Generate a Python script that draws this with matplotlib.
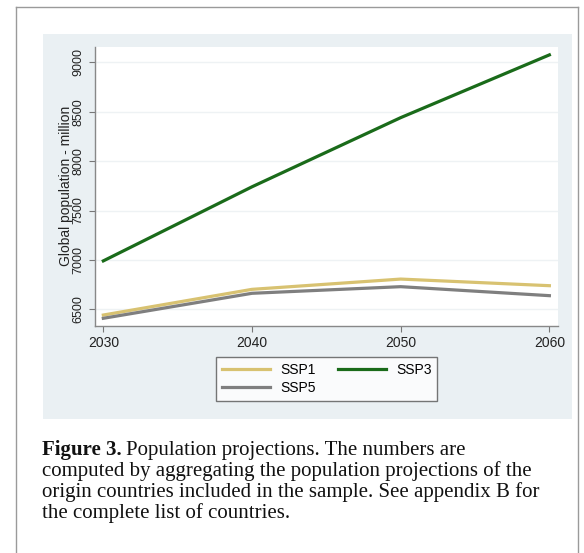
import matplotlib.pyplot as plt
from matplotlib.lines import Line2D
from matplotlib.patches import Rectangle

years = [2030, 2040, 2050, 2060]
ssp1 = [6442, 6702, 6806, 6739]
ssp3 = [6990, 7740, 8440, 9075]
ssp5 = [6409, 6662, 6729, 6638]
yticks = [6500, 7000, 7500, 8000, 8500, 9000]

plt.rcParams["font.family"] = ["Liberation Sans", "DejaVu Sans"]

fig = plt.figure(figsize=(5.84, 5.53), dpi=100)

# outer frame of the figure box (no bottom edge)
W, H = 584, 553
frame = dict(color="#9a9a9a", lw=1.0, transform=fig.transFigure)
fig.add_artist(Line2D([16 / W, 16 / W], [0, 1 - 7 / H], **frame))
fig.add_artist(Line2D([578 / W, 578 / W], [0, 1 - 7 / H], **frame))
fig.add_artist(Line2D([16 / W, 578 / W], [1 - 7 / H, 1 - 7 / H], **frame))

# light graph region behind the plot
fig.add_artist(Rectangle((43 / W, 1 - 419 / H), 529 / W, 385 / H,
                         transform=fig.transFigure, facecolor="#eaf0f3",
                         edgecolor="none", zorder=0))

ax = fig.add_axes([95 / W, 1 - 325.7 / H, 462.7 / W, 279 / H])
ax.set_facecolor("white")
l1, = ax.plot(years, ssp1, color="#d8c271", lw=2.3, label="SSP1")
l3, = ax.plot(years, ssp3, color="#1a6b1a", lw=2.3, label="SSP3")
l5, = ax.plot(years, ssp5, color="#7f7f7f", lw=2.3, label="SSP5")

ax.set_xlim(2029.44, 2060.56)
ax.set_ylim(6334, 9158)
ax.set_xticks(years)
ax.set_yticks(yticks)
ax.set_yticklabels([str(v) for v in yticks], rotation=90, va="center")
ax.tick_params(color="#777777", length=4, width=0.8, labelcolor="#222222")
ax.tick_params(axis="x", labelsize=10)
ax.tick_params(axis="y", labelsize=9, pad=3.5)
ax.grid(axis="y", color="#eef2f4", lw=1.0)
ax.set_axisbelow(True)
for side in ["top", "right"]:
    ax.spines[side].set_visible(False)
for side in ["left", "bottom"]:
    ax.spines[side].set_color("#888888")
    ax.spines[side].set_linewidth(1.0)
ax.set_ylabel("Global population - million", fontsize=10, color="#222222",
              labelpad=0)

leg = fig.legend([l1, l5, l3], ["SSP1", "SSP5", "SSP3"], ncol=2,
                 loc="upper center", bbox_to_anchor=(326.5 / W, 1 - 357 / H),
                 fontsize=10, frameon=True, fancybox=False, handlelength=3.5,
                 columnspacing=1.6, borderpad=0.42, labelspacing=0.3,
                 handletextpad=0.7, borderaxespad=0)
leg.get_frame().set_edgecolor("#555555")
leg.get_frame().set_linewidth(1.0)

# caption
caption_lines = [
    "Population projections. The numbers are",
    "computed by aggregating the population projections of the",
    "origin countries included in the sample. See appendix B for",
    "the complete list of countries.",
]
serif = ["Liberation Serif", "DejaVu Serif"]
t = fig.text(42 / W, 1 - 455 / H, "Figure 3.", family=serif, fontsize=15,
             fontweight="bold", va="baseline", color="#111111")
fig.canvas.draw()
bb = t.get_window_extent()
fig.text((bb.x1 + 4) / W, 1 - 455 / H, caption_lines[0], family=serif,
         fontsize=15, va="baseline", color="#111111")
for i, line in enumerate(caption_lines[1:], start=1):
    fig.text(42 / W, 1 - (455 + 21 * i) / H, line, family=serif,
             fontsize=15, va="baseline", color="#111111")

fig.savefig("out.png", dpi=100)
